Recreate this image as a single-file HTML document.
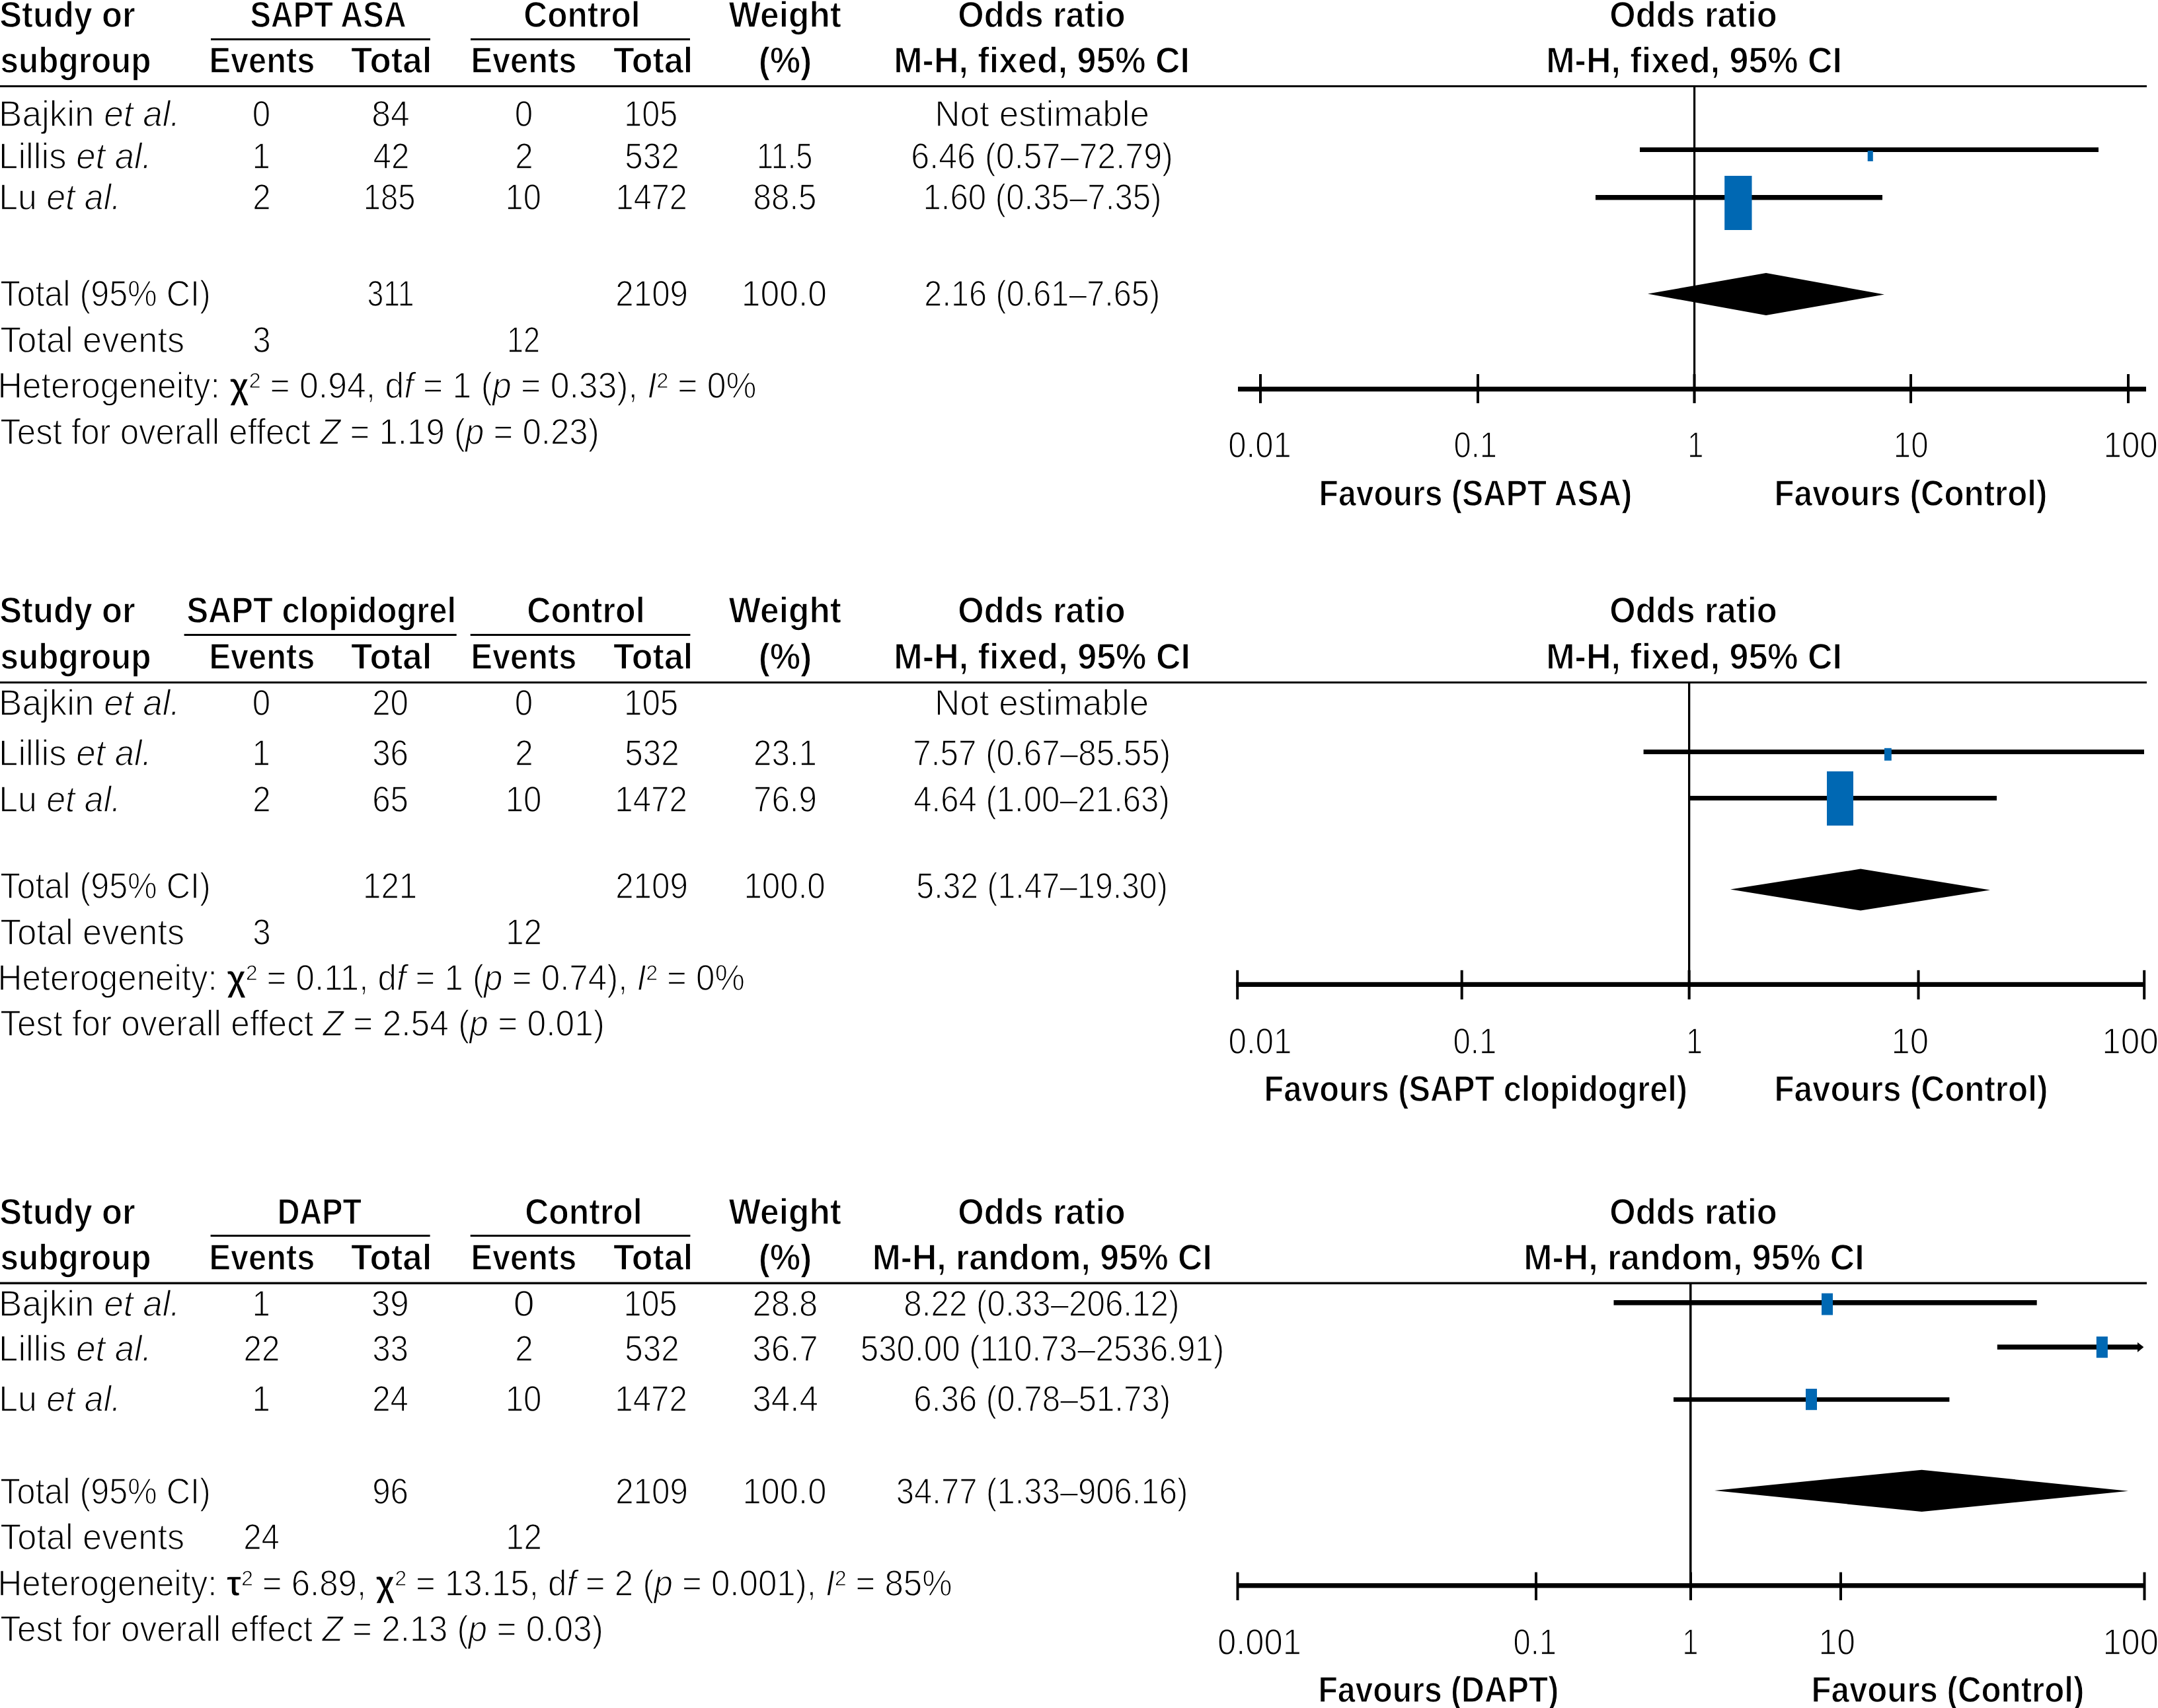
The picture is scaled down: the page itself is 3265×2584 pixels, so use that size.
<!DOCTYPE html>
<html><head><meta charset="utf-8"><title>Forest plots</title>
<style>
html,body{margin:0;padding:0;background:#fff;}
body{width:3265px;height:2584px;overflow:hidden;}
svg{display:block;}
text{font-family:"Liberation Sans",sans-serif;fill:#000;stroke:#fff;stroke-width:1.4px;}
text[font-weight=bold]{stroke-width:1.3px;}
</style></head><body>
<svg width="3265" height="2584" viewBox="0 0 3265 2584">
<rect x="0" y="0" width="3265" height="2584" fill="#fff"/>
<g>
<rect x="319.00" y="58.00" width="332.00" height="3.00" fill="#000"/>
<rect x="712.00" y="58.00" width="332.00" height="3.00" fill="#000"/>
<rect x="0.00" y="129.00" width="3248.00" height="3.00" fill="#000"/>
<rect x="2562.00" y="132.00" width="3.20" height="478.00" fill="#000"/>
<rect x="1873.00" y="585.00" width="1374.00" height="7.30" fill="#000"/>
<rect x="1905.00" y="566.00" width="4.00" height="44.00" fill="#000"/>
<rect x="2234.00" y="566.00" width="4.00" height="44.00" fill="#000"/>
<rect x="2561.50" y="566.00" width="4.00" height="44.00" fill="#000"/>
<rect x="2889.00" y="566.00" width="4.00" height="44.00" fill="#000"/>
<rect x="3218.00" y="566.00" width="4.00" height="44.00" fill="#000"/>
<rect x="2481.00" y="223.00" width="694.00" height="7.00" fill="#000"/>
<rect x="2825.70" y="228.00" width="8.10" height="16.00" fill="#0068b3"/>
<rect x="2414.00" y="295.00" width="434.00" height="7.50" fill="#000"/>
<rect x="2609.20" y="266.00" width="41.30" height="82.00" fill="#0068b3"/>
<polygon points="2493,444.5 2672,413 2851,445.5 2672,477" fill="#000"/>
<rect x="278.60" y="959.00" width="412.10" height="3.00" fill="#000"/>
<rect x="711.70" y="959.00" width="332.70" height="3.00" fill="#000"/>
<rect x="0.00" y="1031.00" width="3248.00" height="3.00" fill="#000"/>
<rect x="2554.00" y="1034.00" width="3.30" height="477.00" fill="#000"/>
<rect x="1870.40" y="1485.80" width="1375.60" height="7.20" fill="#000"/>
<rect x="1870.20" y="1467.80" width="4.00" height="44.20" fill="#000"/>
<rect x="2209.70" y="1467.80" width="4.00" height="44.20" fill="#000"/>
<rect x="2553.60" y="1467.80" width="4.00" height="44.20" fill="#000"/>
<rect x="2900.50" y="1467.80" width="4.00" height="44.20" fill="#000"/>
<rect x="3242.20" y="1467.80" width="4.00" height="44.20" fill="#000"/>
<rect x="2486.60" y="1134.00" width="757.40" height="7.00" fill="#000"/>
<rect x="2851.00" y="1131.80" width="10.80" height="18.90" fill="#0068b3"/>
<rect x="2556.50" y="1204.00" width="464.50" height="7.00" fill="#000"/>
<rect x="2764.00" y="1167.00" width="40.00" height="82.00" fill="#0068b3"/>
<polygon points="2618,1345.5 2815,1314.6 3011,1346.5 2815,1377.6" fill="#000"/>
<rect x="318.60" y="1868.00" width="332.00" height="3.00" fill="#000"/>
<rect x="711.70" y="1868.00" width="332.70" height="3.00" fill="#000"/>
<rect x="0.00" y="1939.60" width="3248.00" height="3.40" fill="#000"/>
<rect x="2556.00" y="1943.00" width="3.50" height="478.00" fill="#000"/>
<rect x="1871.00" y="2395.20" width="1375.00" height="7.20" fill="#000"/>
<rect x="1870.50" y="2378.60" width="4.00" height="42.40" fill="#000"/>
<rect x="2322.00" y="2378.60" width="4.00" height="42.40" fill="#000"/>
<rect x="2556.00" y="2378.60" width="4.00" height="42.40" fill="#000"/>
<rect x="2783.00" y="2378.60" width="4.00" height="42.40" fill="#000"/>
<rect x="3242.50" y="2378.60" width="4.00" height="42.40" fill="#000"/>
<rect x="2441.50" y="1967.00" width="640.20" height="7.60" fill="#000"/>
<rect x="2756.00" y="1956.60" width="17.00" height="32.90" fill="#0068b3"/>
<rect x="3021.80" y="2034.20" width="214.20" height="7.50" fill="#000"/>
<polygon points="3234,2030.8 3243.4,2038 3234,2045.7" fill="#000"/>
<rect x="3171.80" y="2022.00" width="17.10" height="32.20" fill="#0068b3"/>
<rect x="2532.00" y="2114.00" width="417.40" height="6.70" fill="#000"/>
<rect x="2732.00" y="2101.00" width="17.00" height="32.20" fill="#0068b3"/>
<polygon points="2594,2255 2907.5,2223.7 3220,2255.8 2907.5,2287" fill="#000"/>
</g>
<g>
<text id="t0" x="-0.68" y="40.70" font-size="56" font-weight="bold" textLength="205.33" lengthAdjust="spacingAndGlyphs">Study or</text>
<text id="t1" x="0.48" y="110.20" font-size="56" font-weight="bold" textLength="228.07" lengthAdjust="spacingAndGlyphs">subgroup</text>
<text id="t2" x="378.48" y="40.70" font-size="56" font-weight="bold" textLength="236.27" lengthAdjust="spacingAndGlyphs">SAPT ASA</text>
<text id="t3" x="792.34" y="40.70" font-size="56" font-weight="bold" textLength="176.25" lengthAdjust="spacingAndGlyphs">Control</text>
<text id="t4" x="1102.50" y="40.70" font-size="56" font-weight="bold" textLength="170.40" lengthAdjust="spacingAndGlyphs">Weight</text>
<text id="t5" x="1449.28" y="40.70" font-size="56" font-weight="bold" textLength="253.46" lengthAdjust="spacingAndGlyphs">Odds ratio</text>
<text id="t6" x="2435.28" y="40.70" font-size="56" font-weight="bold" textLength="253.46" lengthAdjust="spacingAndGlyphs">Odds ratio</text>
<text id="t7" x="316.52" y="110.20" font-size="56" font-weight="bold" textLength="159.78" lengthAdjust="spacingAndGlyphs">Events</text>
<text id="t8" x="531.06" y="110.20" font-size="56" font-weight="bold" textLength="122.29" lengthAdjust="spacingAndGlyphs">Total</text>
<text id="t9" x="712.52" y="110.20" font-size="56" font-weight="bold" textLength="159.78" lengthAdjust="spacingAndGlyphs">Events</text>
<text id="t10" x="927.90" y="110.20" font-size="56" font-weight="bold" textLength="120.41" lengthAdjust="spacingAndGlyphs">Total</text>
<text id="t11" x="1147.76" y="110.20" font-size="56" font-weight="bold" textLength="80.58" lengthAdjust="spacingAndGlyphs">(%)</text>
<text id="t12" x="1352.29" y="110.20" font-size="56" font-weight="bold" textLength="447.73" lengthAdjust="spacingAndGlyphs">M-H, fixed, 95% CI</text>
<text id="t13" x="2339.29" y="110.20" font-size="56" font-weight="bold" textLength="447.73" lengthAdjust="spacingAndGlyphs">M-H, fixed, 95% CI</text>
<text id="t14" x="-0.68" y="941.70" font-size="56" font-weight="bold" textLength="205.33" lengthAdjust="spacingAndGlyphs">Study or</text>
<text id="t15" x="0.48" y="1011.50" font-size="56" font-weight="bold" textLength="228.07" lengthAdjust="spacingAndGlyphs">subgroup</text>
<text id="t16" x="282.38" y="941.70" font-size="56" font-weight="bold" textLength="407.73" lengthAdjust="spacingAndGlyphs">SAPT clopidogrel</text>
<text id="t17" x="797.31" y="941.70" font-size="56" font-weight="bold" textLength="178.33" lengthAdjust="spacingAndGlyphs">Control</text>
<text id="t18" x="1102.50" y="941.70" font-size="56" font-weight="bold" textLength="170.40" lengthAdjust="spacingAndGlyphs">Weight</text>
<text id="t19" x="1449.28" y="941.70" font-size="56" font-weight="bold" textLength="253.46" lengthAdjust="spacingAndGlyphs">Odds ratio</text>
<text id="t20" x="2435.28" y="941.70" font-size="56" font-weight="bold" textLength="253.46" lengthAdjust="spacingAndGlyphs">Odds ratio</text>
<text id="t21" x="316.52" y="1011.50" font-size="56" font-weight="bold" textLength="159.78" lengthAdjust="spacingAndGlyphs">Events</text>
<text id="t22" x="531.06" y="1011.50" font-size="56" font-weight="bold" textLength="122.29" lengthAdjust="spacingAndGlyphs">Total</text>
<text id="t23" x="712.52" y="1011.50" font-size="56" font-weight="bold" textLength="159.78" lengthAdjust="spacingAndGlyphs">Events</text>
<text id="t24" x="927.90" y="1011.50" font-size="56" font-weight="bold" textLength="120.41" lengthAdjust="spacingAndGlyphs">Total</text>
<text id="t25" x="1147.76" y="1011.50" font-size="56" font-weight="bold" textLength="80.58" lengthAdjust="spacingAndGlyphs">(%)</text>
<text id="t26" x="1352.28" y="1011.50" font-size="56" font-weight="bold" textLength="448.75" lengthAdjust="spacingAndGlyphs">M-H, fixed, 95% CI</text>
<text id="t27" x="2339.29" y="1011.50" font-size="56" font-weight="bold" textLength="447.73" lengthAdjust="spacingAndGlyphs">M-H, fixed, 95% CI</text>
<text id="t28" x="-0.68" y="1851.70" font-size="56" font-weight="bold" textLength="205.33" lengthAdjust="spacingAndGlyphs">Study or</text>
<text id="t29" x="0.48" y="1921.00" font-size="56" font-weight="bold" textLength="228.07" lengthAdjust="spacingAndGlyphs">subgroup</text>
<text id="t30" x="419.81" y="1851.70" font-size="56" font-weight="bold" textLength="127.15" lengthAdjust="spacingAndGlyphs">DAPT</text>
<text id="t31" x="794.33" y="1851.70" font-size="56" font-weight="bold" textLength="177.29" lengthAdjust="spacingAndGlyphs">Control</text>
<text id="t32" x="1102.50" y="1851.70" font-size="56" font-weight="bold" textLength="170.40" lengthAdjust="spacingAndGlyphs">Weight</text>
<text id="t33" x="1449.28" y="1851.70" font-size="56" font-weight="bold" textLength="253.46" lengthAdjust="spacingAndGlyphs">Odds ratio</text>
<text id="t34" x="2435.28" y="1851.70" font-size="56" font-weight="bold" textLength="253.46" lengthAdjust="spacingAndGlyphs">Odds ratio</text>
<text id="t35" x="316.52" y="1921.00" font-size="56" font-weight="bold" textLength="159.78" lengthAdjust="spacingAndGlyphs">Events</text>
<text id="t36" x="531.06" y="1921.00" font-size="56" font-weight="bold" textLength="122.29" lengthAdjust="spacingAndGlyphs">Total</text>
<text id="t37" x="712.52" y="1921.00" font-size="56" font-weight="bold" textLength="159.78" lengthAdjust="spacingAndGlyphs">Events</text>
<text id="t38" x="927.90" y="1921.00" font-size="56" font-weight="bold" textLength="120.41" lengthAdjust="spacingAndGlyphs">Total</text>
<text id="t39" x="1147.76" y="1921.00" font-size="56" font-weight="bold" textLength="80.58" lengthAdjust="spacingAndGlyphs">(%)</text>
<text id="t40" x="1319.72" y="1921.00" font-size="56" font-weight="bold" textLength="514.08" lengthAdjust="spacingAndGlyphs">M-H, random, 95% CI</text>
<text id="t41" x="2305.30" y="1921.00" font-size="56" font-weight="bold" textLength="515.37" lengthAdjust="spacingAndGlyphs">M-H, random, 95% CI</text>
<text id="t42" x="-1.94" y="191.40" font-size="55" textLength="274.31" lengthAdjust="spacingAndGlyphs">Bajkin <tspan font-style='italic'>et al.</tspan></text>
<text id="t43" x="-1.91" y="254.90" font-size="55" textLength="231.38" lengthAdjust="spacingAndGlyphs">Lillis <tspan font-style='italic'>et al.</tspan></text>
<text id="t44" x="-1.83" y="316.80" font-size="55" textLength="184.39" lengthAdjust="spacingAndGlyphs">Lu <tspan font-style='italic'>et al.</tspan></text>
<text id="t45" x="0.30" y="463.00" font-size="55" textLength="318.50" lengthAdjust="spacingAndGlyphs">Total (95% CI)</text>
<text id="t46" x="0.21" y="532.60" font-size="55" textLength="278.89" lengthAdjust="spacingAndGlyphs">Total events</text>
<text id="t47" x="-3.58" y="601.90" font-size="55" textLength="1148.14" lengthAdjust="spacingAndGlyphs">Heterogeneity: <tspan font-weight='bold'>χ</tspan>² = 0.94, d<tspan font-style='italic'>f</tspan> = 1 (<tspan font-style='italic'>p</tspan> = 0.33), <tspan font-style='italic'>I</tspan>² = 0%</text>
<text id="t48" x="0.27" y="671.70" font-size="55" textLength="906.46" lengthAdjust="spacingAndGlyphs">Test for overall effect <tspan font-style='italic'>Z</tspan> = 1.19 (<tspan font-style='italic'>p</tspan> = 0.23)</text>
<text id="t49" x="381.84" y="191.40" font-size="55" textLength="27.42" lengthAdjust="spacingAndGlyphs">0</text>
<text id="t50" x="381.39" y="254.90" font-size="55" textLength="27.42" lengthAdjust="spacingAndGlyphs">1</text>
<text id="t51" x="382.29" y="316.80" font-size="55" textLength="27.42" lengthAdjust="spacingAndGlyphs">2</text>
<text id="t52" x="382.29" y="532.60" font-size="55" textLength="27.42" lengthAdjust="spacingAndGlyphs">3</text>
<text id="t53" x="562.30" y="191.40" font-size="55" textLength="57.47" lengthAdjust="spacingAndGlyphs">84</text>
<text id="t54" x="564.48" y="254.90" font-size="55" textLength="54.84" lengthAdjust="spacingAndGlyphs">42</text>
<text id="t55" x="549.71" y="316.80" font-size="55" textLength="78.66" lengthAdjust="spacingAndGlyphs">185</text>
<text id="t56" x="555.43" y="463.00" font-size="55" textLength="71.25" lengthAdjust="spacingAndGlyphs">311</text>
<text id="t57" x="778.84" y="191.40" font-size="55" textLength="27.42" lengthAdjust="spacingAndGlyphs">0</text>
<text id="t58" x="779.29" y="254.90" font-size="55" textLength="27.42" lengthAdjust="spacingAndGlyphs">2</text>
<text id="t59" x="764.57" y="316.80" font-size="55" textLength="54.27" lengthAdjust="spacingAndGlyphs">10</text>
<text id="t60" x="767.05" y="532.60" font-size="55" textLength="50.14" lengthAdjust="spacingAndGlyphs">12</text>
<text id="t61" x="944.32" y="191.40" font-size="55" textLength="80.84" lengthAdjust="spacingAndGlyphs">105</text>
<text id="t62" x="945.33" y="254.90" font-size="55" textLength="82.24" lengthAdjust="spacingAndGlyphs">532</text>
<text id="t63" x="931.57" y="316.80" font-size="55" textLength="108.41" lengthAdjust="spacingAndGlyphs">1472</text>
<text id="t64" x="931.31" y="463.00" font-size="55" textLength="109.70" lengthAdjust="spacingAndGlyphs">2109</text>
<text id="t65" x="1144.89" y="254.90" font-size="55" textLength="84.54" lengthAdjust="spacingAndGlyphs">11.5</text>
<text id="t66" x="1139.58" y="316.80" font-size="55" textLength="95.94" lengthAdjust="spacingAndGlyphs">88.5</text>
<text id="t67" x="1121.77" y="463.00" font-size="55" textLength="129.17" lengthAdjust="spacingAndGlyphs">100.0</text>
<text id="t68" x="1414.17" y="191.40" font-size="55" textLength="324.99" lengthAdjust="spacingAndGlyphs">Not estimable</text>
<text id="t69" x="1378.26" y="254.90" font-size="55" textLength="396.61" lengthAdjust="spacingAndGlyphs">6.46 (0.57–72.79)</text>
<text id="t70" x="1396.39" y="316.80" font-size="55" textLength="361.13" lengthAdjust="spacingAndGlyphs">1.60 (0.35–7.35)</text>
<text id="t71" x="1398.35" y="463.00" font-size="55" textLength="356.75" lengthAdjust="spacingAndGlyphs">2.16 (0.61–7.65)</text>
<text id="t72" x="-1.94" y="1081.70" font-size="55" textLength="274.31" lengthAdjust="spacingAndGlyphs">Bajkin <tspan font-style='italic'>et al.</tspan></text>
<text id="t73" x="-1.91" y="1158.00" font-size="55" textLength="231.38" lengthAdjust="spacingAndGlyphs">Lillis <tspan font-style='italic'>et al.</tspan></text>
<text id="t74" x="-1.83" y="1227.50" font-size="55" textLength="184.39" lengthAdjust="spacingAndGlyphs">Lu <tspan font-style='italic'>et al.</tspan></text>
<text id="t75" x="0.30" y="1358.90" font-size="55" textLength="318.50" lengthAdjust="spacingAndGlyphs">Total (95% CI)</text>
<text id="t76" x="0.21" y="1428.60" font-size="55" textLength="278.89" lengthAdjust="spacingAndGlyphs">Total events</text>
<text id="t77" x="-3.52" y="1497.60" font-size="55" textLength="1130.37" lengthAdjust="spacingAndGlyphs">Heterogeneity: <tspan font-weight='bold'>χ</tspan>² = 0.11, d<tspan font-style='italic'>f</tspan> = 1 (<tspan font-style='italic'>p</tspan> = 0.74), <tspan font-style='italic'>I</tspan>² = 0%</text>
<text id="t78" x="0.25" y="1567.10" font-size="55" textLength="914.71" lengthAdjust="spacingAndGlyphs">Test for overall effect <tspan font-style='italic'>Z</tspan> = 2.54 (<tspan font-style='italic'>p</tspan> = 0.01)</text>
<text id="t79" x="381.84" y="1081.70" font-size="55" textLength="27.42" lengthAdjust="spacingAndGlyphs">0</text>
<text id="t80" x="381.39" y="1158.00" font-size="55" textLength="27.42" lengthAdjust="spacingAndGlyphs">1</text>
<text id="t81" x="382.29" y="1227.50" font-size="55" textLength="27.42" lengthAdjust="spacingAndGlyphs">2</text>
<text id="t82" x="382.29" y="1428.60" font-size="55" textLength="27.42" lengthAdjust="spacingAndGlyphs">3</text>
<text id="t83" x="563.13" y="1081.70" font-size="55" textLength="54.84" lengthAdjust="spacingAndGlyphs">20</text>
<text id="t84" x="563.13" y="1158.00" font-size="55" textLength="54.84" lengthAdjust="spacingAndGlyphs">36</text>
<text id="t85" x="563.13" y="1227.50" font-size="55" textLength="54.84" lengthAdjust="spacingAndGlyphs">65</text>
<text id="t86" x="548.98" y="1358.90" font-size="55" textLength="82.24" lengthAdjust="spacingAndGlyphs">121</text>
<text id="t87" x="778.84" y="1081.70" font-size="55" textLength="27.42" lengthAdjust="spacingAndGlyphs">0</text>
<text id="t88" x="779.29" y="1158.00" font-size="55" textLength="27.42" lengthAdjust="spacingAndGlyphs">2</text>
<text id="t89" x="764.68" y="1227.50" font-size="55" textLength="54.84" lengthAdjust="spacingAndGlyphs">10</text>
<text id="t90" x="765.13" y="1428.60" font-size="55" textLength="54.84" lengthAdjust="spacingAndGlyphs">12</text>
<text id="t91" x="943.98" y="1081.70" font-size="55" textLength="82.24" lengthAdjust="spacingAndGlyphs">105</text>
<text id="t92" x="945.33" y="1158.00" font-size="55" textLength="82.24" lengthAdjust="spacingAndGlyphs">532</text>
<text id="t93" x="930.27" y="1227.50" font-size="55" textLength="109.66" lengthAdjust="spacingAndGlyphs">1472</text>
<text id="t94" x="931.17" y="1358.90" font-size="55" textLength="109.66" lengthAdjust="spacingAndGlyphs">2109</text>
<text id="t95" x="1140.03" y="1158.00" font-size="55" textLength="95.94" lengthAdjust="spacingAndGlyphs">23.1</text>
<text id="t96" x="1140.03" y="1227.50" font-size="55" textLength="95.94" lengthAdjust="spacingAndGlyphs">76.9</text>
<text id="t97" x="1125.43" y="1358.90" font-size="55" textLength="123.36" lengthAdjust="spacingAndGlyphs">100.0</text>
<text id="t98" x="1413.99" y="1081.70" font-size="55" textLength="324.37" lengthAdjust="spacingAndGlyphs">Not estimable</text>
<text id="t99" x="1381.31" y="1158.00" font-size="55" textLength="389.90" lengthAdjust="spacingAndGlyphs">7.57 (0.67–85.55)</text>
<text id="t100" x="1382.21" y="1227.50" font-size="55" textLength="387.56" lengthAdjust="spacingAndGlyphs">4.64 (1.00–21.63)</text>
<text id="t101" x="1386.37" y="1358.90" font-size="55" textLength="380.34" lengthAdjust="spacingAndGlyphs">5.32 (1.47–19.30)</text>
<text id="t102" x="-1.94" y="1990.50" font-size="55" textLength="274.31" lengthAdjust="spacingAndGlyphs">Bajkin <tspan font-style='italic'>et al.</tspan></text>
<text id="t103" x="-1.91" y="2059.20" font-size="55" textLength="231.38" lengthAdjust="spacingAndGlyphs">Lillis <tspan font-style='italic'>et al.</tspan></text>
<text id="t104" x="-1.83" y="2135.40" font-size="55" textLength="184.39" lengthAdjust="spacingAndGlyphs">Lu <tspan font-style='italic'>et al.</tspan></text>
<text id="t105" x="0.30" y="2275.00" font-size="55" textLength="318.50" lengthAdjust="spacingAndGlyphs">Total (95% CI)</text>
<text id="t106" x="0.21" y="2344.40" font-size="55" textLength="278.89" lengthAdjust="spacingAndGlyphs">Total events</text>
<text id="t107" x="-3.52" y="2413.90" font-size="55" textLength="1444.15" lengthAdjust="spacingAndGlyphs">Heterogeneity: <tspan font-weight='bold'>τ</tspan>² = 6.89, <tspan font-weight='bold'>χ</tspan>² = 13.15, d<tspan font-style='italic'>f</tspan> = 2 (<tspan font-style='italic'>p</tspan> = 0.001), <tspan font-style='italic'>I</tspan>² = 85%</text>
<text id="t108" x="0.25" y="2483.40" font-size="55" textLength="912.49" lengthAdjust="spacingAndGlyphs">Test for overall effect <tspan font-style='italic'>Z</tspan> = 2.13 (<tspan font-style='italic'>p</tspan> = 0.03)</text>
<text id="t109" x="381.39" y="1990.50" font-size="55" textLength="27.42" lengthAdjust="spacingAndGlyphs">1</text>
<text id="t110" x="368.58" y="2059.20" font-size="55" textLength="54.84" lengthAdjust="spacingAndGlyphs">22</text>
<text id="t111" x="381.39" y="2135.40" font-size="55" textLength="27.42" lengthAdjust="spacingAndGlyphs">1</text>
<text id="t112" x="368.13" y="2344.40" font-size="55" textLength="54.84" lengthAdjust="spacingAndGlyphs">24</text>
<text id="t113" x="561.74" y="1990.50" font-size="55" textLength="56.90" lengthAdjust="spacingAndGlyphs">39</text>
<text id="t114" x="563.13" y="2059.20" font-size="55" textLength="54.84" lengthAdjust="spacingAndGlyphs">33</text>
<text id="t115" x="563.13" y="2135.40" font-size="55" textLength="54.84" lengthAdjust="spacingAndGlyphs">24</text>
<text id="t116" x="563.13" y="2275.00" font-size="55" textLength="54.84" lengthAdjust="spacingAndGlyphs">96</text>
<text id="t117" x="776.88" y="1990.50" font-size="55" textLength="31.82" lengthAdjust="spacingAndGlyphs">0</text>
<text id="t118" x="779.29" y="2059.20" font-size="55" textLength="27.42" lengthAdjust="spacingAndGlyphs">2</text>
<text id="t119" x="764.68" y="2135.40" font-size="55" textLength="54.84" lengthAdjust="spacingAndGlyphs">10</text>
<text id="t120" x="765.13" y="2344.40" font-size="55" textLength="54.84" lengthAdjust="spacingAndGlyphs">12</text>
<text id="t121" x="943.58" y="1990.50" font-size="55" textLength="81.06" lengthAdjust="spacingAndGlyphs">105</text>
<text id="t122" x="945.33" y="2059.20" font-size="55" textLength="82.24" lengthAdjust="spacingAndGlyphs">532</text>
<text id="t123" x="930.27" y="2135.40" font-size="55" textLength="109.66" lengthAdjust="spacingAndGlyphs">1472</text>
<text id="t124" x="931.17" y="2275.00" font-size="55" textLength="109.66" lengthAdjust="spacingAndGlyphs">2109</text>
<text id="t125" x="1138.48" y="1990.50" font-size="55" textLength="98.70" lengthAdjust="spacingAndGlyphs">28.8</text>
<text id="t126" x="1138.21" y="2059.20" font-size="55" textLength="99.63" lengthAdjust="spacingAndGlyphs">36.7</text>
<text id="t127" x="1138.21" y="2135.40" font-size="55" textLength="99.70" lengthAdjust="spacingAndGlyphs">34.4</text>
<text id="t128" x="1123.38" y="2275.00" font-size="55" textLength="127.05" lengthAdjust="spacingAndGlyphs">100.0</text>
<text id="t129" x="1367.31" y="1990.50" font-size="55" textLength="417.13" lengthAdjust="spacingAndGlyphs">8.22 (0.33–206.12)</text>
<text id="t130" x="1301.73" y="2059.20" font-size="55" textLength="550.50" lengthAdjust="spacingAndGlyphs">530.00 (110.73–2536.91)</text>
<text id="t131" x="1382.31" y="2135.40" font-size="55" textLength="388.88" lengthAdjust="spacingAndGlyphs">6.36 (0.78–51.73)</text>
<text id="t132" x="1355.75" y="2275.00" font-size="55" textLength="441.60" lengthAdjust="spacingAndGlyphs">34.77 (1.33–906.16)</text>
<text id="t133" x="1858.33" y="692.20" font-size="55" textLength="95.39" lengthAdjust="spacingAndGlyphs">0.01</text>
<text id="t134" x="2199.43" y="692.20" font-size="55" textLength="65.54" lengthAdjust="spacingAndGlyphs">0.1</text>
<text id="t135" x="2553.20" y="692.20" font-size="55" textLength="24.20" lengthAdjust="spacingAndGlyphs">1</text>
<text id="t136" x="2864.82" y="692.20" font-size="55" textLength="52.68" lengthAdjust="spacingAndGlyphs">10</text>
<text id="t137" x="3182.52" y="692.20" font-size="55" textLength="82.24" lengthAdjust="spacingAndGlyphs">100</text>
<text id="t138" x="1995.57" y="764.50" font-size="56" font-weight="bold" textLength="473.68" lengthAdjust="spacingAndGlyphs">Favours (SAPT ASA)</text>
<text id="t139" x="2684.48" y="764.50" font-size="56" font-weight="bold" textLength="412.82" lengthAdjust="spacingAndGlyphs">Favours (Control)</text>
<text id="t140" x="1858.47" y="1593.80" font-size="55" textLength="96.02" lengthAdjust="spacingAndGlyphs">0.01</text>
<text id="t141" x="2198.56" y="1593.80" font-size="55" textLength="65.70" lengthAdjust="spacingAndGlyphs">0.1</text>
<text id="t142" x="2551.33" y="1593.80" font-size="55" textLength="24.79" lengthAdjust="spacingAndGlyphs">1</text>
<text id="t143" x="2861.38" y="1593.80" font-size="55" textLength="56.57" lengthAdjust="spacingAndGlyphs">10</text>
<text id="t144" x="3180.34" y="1593.80" font-size="55" textLength="85.53" lengthAdjust="spacingAndGlyphs">100</text>
<text id="t145" x="1912.53" y="1665.60" font-size="56" font-weight="bold" textLength="640.43" lengthAdjust="spacingAndGlyphs">Favours (SAPT clopidogrel)</text>
<text id="t146" x="2684.48" y="1665.60" font-size="56" font-weight="bold" textLength="413.84" lengthAdjust="spacingAndGlyphs">Favours (Control)</text>
<text id="t147" x="1841.98" y="2503.30" font-size="55" textLength="127.01" lengthAdjust="spacingAndGlyphs">0.001</text>
<text id="t148" x="2289.43" y="2503.30" font-size="55" textLength="65.54" lengthAdjust="spacingAndGlyphs">0.1</text>
<text id="t149" x="2545.46" y="2503.30" font-size="55" textLength="23.96" lengthAdjust="spacingAndGlyphs">1</text>
<text id="t150" x="2751.47" y="2503.30" font-size="55" textLength="55.42" lengthAdjust="spacingAndGlyphs">10</text>
<text id="t151" x="3181.40" y="2503.30" font-size="55" textLength="84.44" lengthAdjust="spacingAndGlyphs">100</text>
<text id="t152" x="1994.42" y="2574.50" font-size="56" font-weight="bold" textLength="363.81" lengthAdjust="spacingAndGlyphs">Favours (DAPT)</text>
<text id="t153" x="2740.48" y="2574.50" font-size="56" font-weight="bold" textLength="412.82" lengthAdjust="spacingAndGlyphs">Favours (Control)</text>
</g>
</svg>
</body></html>
